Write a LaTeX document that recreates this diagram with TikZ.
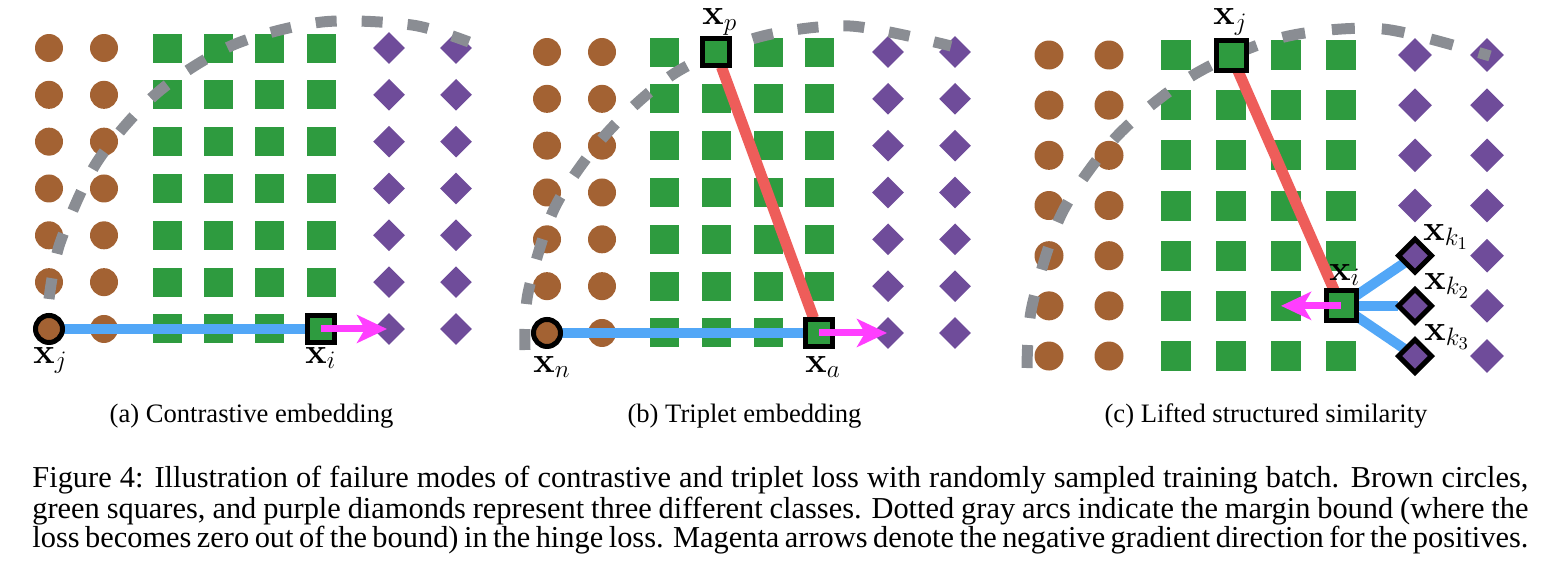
\documentclass[tikz,border=0pt]{standalone}
\usepackage{fix-cm}
\usepackage[no-math]{fontspec}
\newfontfamily\capfont{Liberation Serif}
\usetikzlibrary{shapes.geometric,arrows.meta}
\definecolor{cbrown}{HTML}{A36233}
\definecolor{cgreen}{HTML}{2E9B3F}
\definecolor{cpurple}{HTML}{6F4C9A}
\definecolor{cgray}{HTML}{8A8D93}
\definecolor{cblue}{HTML}{52A7F7}
\definecolor{cred}{HTML}{EE5D5A}
\definecolor{cmag}{HTML}{FF3EFF}
\begin{document}
\begin{tikzpicture}[x=0.5pt,y=-0.5pt,
  brownpt/.style={circle,fill=cbrown,inner sep=0pt,minimum size=#1},
  brownpt/.default=14pt,
  greenpt/.style={rectangle,fill=cgreen,inner sep=0pt,minimum size=#1},
  greenpt/.default=14.5pt,
  purplept/.style={diamond,fill=cpurple,inner sep=0pt,shape aspect=1,minimum width=#1,minimum height=#1},
  purplept/.default=16pt,
  hlsq/.style={rectangle,fill=cgreen,draw=black,line width=2.5pt,inner sep=0pt,minimum size=#1},
  hlsq/.default=13.5pt,
  hlcirc/.style={circle,fill=cbrown,draw=black,line width=2.5pt,inner sep=0pt,minimum size=#1},
  hlcirc/.default=13.5pt,
  hldia/.style={diamond,fill=cpurple,draw=black,line width=2.5pt,inner sep=0pt,shape aspect=1,minimum width=17.5pt,minimum height=17.5pt},
  arcdash/.style={draw=cgray,line width=5.5pt,dash pattern=on 10.5pt off 12.5pt},
  arcdashc/.style={draw=cgray,line width=5.5pt,dash pattern=on 11.5pt off 13.5pt},
  blueline/.style={draw=cblue,line width=5pt},
  redline/.style={draw=cred,line width=5.5pt},
  magarrow/.style={draw=cmag,line width=3.5pt,-{Stealth[length=15pt,width=14pt,inset=4pt]}},
  lbl/.style={inner sep=0pt,anchor=base west,font=\fontsize{18}{20}\selectfont},
  subcap/.style={inner sep=0pt,anchor=base,font=\capfont\fontsize{13.3}{15}\selectfont},
  capline/.style={inner sep=0pt,anchor=base west,font=\capfont\fontsize{15.2}{15}\selectfont}
]
\useasboundingbox (0,0) rectangle (1546,573);

% ---------- panel (a) ----------
\foreach \x [count=\c] in {49,104}
  \foreach \j in {0,...,6}
    \node[brownpt] (a-b\c-\j) at (\x,{48+\j*46.83}) {};
\foreach \x [count=\c] in {167,218,269,321}
  \foreach \j in {0,...,6}
    \node[greenpt] (a-g\c-\j) at (\x,{48+\j*46.83}) {};
\foreach \x [count=\c] in {389,456}
  \foreach \j in {0,...,6}
    \node[purplept] (a-p\c-\j) at (\x,{48+\j*46.83}) {};
\draw[arcdash] plot[smooth] coordinates {(49,299) (60,243) (97,162) (157,93) (233,45) (322,22) (412,25) (469,42)};
\draw[blueline] (a-b1-6) -- (a-g4-6);
\node[hlcirc] (axj) at (a-b1-6) {};
\node[hlsq] (axi) at (a-g4-6) {};
\draw[magarrow] (axi.center) -- ++(66,0);
\node[lbl] (axjl) at (33,363) {$\mathbf{x}_j$};
\node[lbl] (axil) at (305,363) {$\mathbf{x}_i$};

% ---------- panel (b) ----------
\foreach \x [count=\c] in {547,602}
  \foreach \j in {0,...,6}
    \node[brownpt] (b-b\c-\j) at (\x,{52+\j*46.83}) {};
\foreach \x [count=\c] in {664,716,768,819}
  \foreach \j in {0,...,6}
    \node[greenpt] (b-g\c-\j) at (\x,{52+\j*46.83}) {};
\foreach \x [count=\c] in {888,955}
  \foreach \j in {0,...,6}
    \node[purplept] (b-p\c-\j) at (\x,{52+\j*46.83}) {};
\draw[arcdash] plot[smooth] coordinates {(525,350) (528,293) (555,207) (607,133) (675,73) (759,37) (850,26) (951,46)};
\draw[blueline] (b-b1-6) -- (b-g4-6);
\draw[redline] (b-g2-0) -- (b-g4-6);
\node[hlcirc] (bxn) at (b-b1-6) {};
\node[hlsq] (bxa) at (b-g4-6) {};
\node[hlsq] (bxp) at (b-g2-0) {};
\draw[magarrow] (bxa.center) -- ++(68,0);
\node[lbl] (bxpl) at (702,25) {$\mathbf{x}_p$};
\node[lbl] (bxnl) at (533,372) {$\mathbf{x}_n$};
\node[lbl] (bxal) at (805,372) {$\mathbf{x}_a$};

% ---------- panel (c) ----------
\foreach \x [count=\c] in {1049,1109}
  \foreach \j in {0,...,6}
    \node[brownpt=14.5pt] (c-b\c-\j) at (\x,{55+\j*50.17}) {};
\foreach \x [count=\c] in {1176,1231,1286,1341}
  \foreach \j in {0,...,6}
    \node[greenpt=15pt] (c-g\c-\j) at (\x,{55+\j*50.17}) {};
\foreach \x [count=\c] in {1415,1487}
  \foreach \j in {0,...,6}
    \node[purplept=17pt] (c-p\c-\j) at (\x,{55+\j*50.17}) {};
\draw[arcdashc] plot[smooth] coordinates {(1027,368) (1032,306) (1062,213) (1118,135) (1195,74) (1284,37) (1383,29) (1490,56)};
\draw[redline] (c-g2-0) -- (c-g4-5);
\draw[blueline] (c-g4-5) -- (c-p1-4);
\draw[blueline] (c-g4-5) -- (c-p1-5);
\draw[blueline] (c-g4-5) -- (c-p1-6);
\node[hlsq=15pt] (cxj) at (c-g2-0) {};
\node[hlsq=15pt] (cxi) at (c-g4-5) {};
\node[hldia] (cxk1) at (c-p1-4) {};
\node[hldia] (cxk2) at (c-p1-5) {};
\node[hldia] (cxk3) at (c-p1-6) {};
\draw[magarrow] (cxi.center) -- ++(-60,0);
\node[lbl] (cxjl) at (1213,25) {$\mathbf{x}_j$};
\node[lbl] (cxil) at (1329,280) {$\mathbf{x}_i$};
\node[lbl] (ck1l) at (1423,240) {$\mathbf{x}_{k_1}$};
\node[lbl] (ck2l) at (1424,289) {$\mathbf{x}_{k_2}$};
\node[lbl] (ck3l) at (1424,340) {$\mathbf{x}_{k_3}$};

% ---------- captions ----------
\node[subcap] (capa) at (251.5,422) {(a) Contrastive embedding};
\node[subcap] (capb) at (744.5,422) {(b) Triplet embedding};
\node[subcap] (capc) at (1266,422) {(c) Lifted structured similarity};
\node[capline] (cap1) at (32,487) {\hbox to 748pt{Figure 4: Illustration of failure modes of contrastive and triplet loss with randomly sampled training batch. Brown circles,}};
\node[capline] (cap2) at (32,518) {\hbox to 748pt{green squares, and purple diamonds represent three different classes. Dotted gray arcs indicate the margin bound (where the}};
\node[capline] (cap3) at (32,547) {\hbox to 748pt{loss becomes zero out of the bound) in the hinge loss. Magenta arrows denote the negative gradient direction for the positives.}};
\end{tikzpicture}
\end{document}
